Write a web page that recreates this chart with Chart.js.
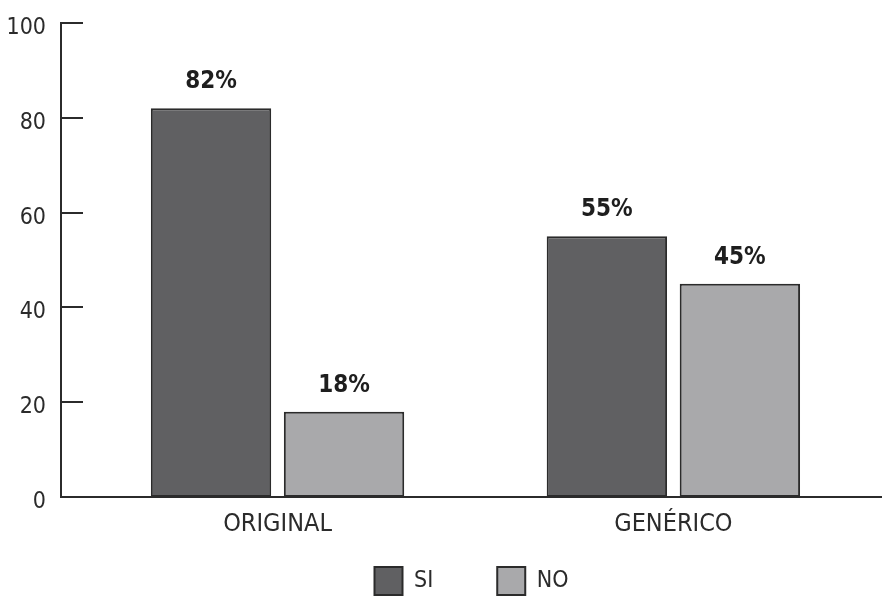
<!DOCTYPE html>
<html>
<head>
<meta charset="utf-8">
<script src="https://cdn.jsdelivr.net/npm/chart.js@4.4.1/dist/chart.umd.min.js"></script>
<style>
html, body { margin: 0; padding: 0; background: #fff; overflow: hidden; }
#wrap { width: 882px; height: 605px; }
</style>
</head>
<body>
<div id="wrap"><canvas id="chart" width="882" height="605"></canvas></div>
<script>
const categories = ['ORIGINAL', 'GENÉRICO'];
const siValues = [82, 55];
const noValues = [18, 45];
const yTicks = [0, 20, 40, 60, 80, 100];

const FONT = "'Liberation Sans Narrow', 'DejaVu Sans Condensed', 'Arial Narrow', sans-serif";
const INK = '#2b2b2b';

Chart.defaults.font.family = FONT;
Chart.defaults.color = INK;

// percentage above each bar
const barLabels = {
    id: 'barLabels',
    afterDatasetsDraw(chart) {
        const ctx = chart.ctx;
        ctx.save();
        ctx.font = 'bold 24px ' + FONT;
        ctx.fillStyle = '#1e1e1e';
        ctx.textAlign = 'center';
        ctx.textBaseline = 'alphabetic';
        chart.data.datasets.forEach((ds, di) => {
            chart.getDatasetMeta(di).data.forEach((bar, i) => {
                ctx.fillText(ds.data[i].y + '%', bar.x, bar.y - 20);
            });
        });
        ctx.restore();
    },
};

// short tick marks pointing into the plot from the y axis
const innerTicks = {
    id: 'innerTicks',
    afterDraw(chart) {
        const y = chart.scales.y;
        const ctx = chart.ctx;
        const left = chart.chartArea.left;
        ctx.save();
        ctx.strokeStyle = INK;
        ctx.lineWidth = 2;
        y.ticks.forEach((t, i) => {
            if (t.value === 0) return;
            const py = Math.round(y.getPixelForTick(i));
            ctx.beginPath();
            ctx.moveTo(left, py);
            ctx.lineTo(left + 22, py);
            ctx.stroke();
        });
        ctx.restore();
    },
};

new Chart(document.getElementById('chart'), {
    type: 'bar',
    data: {
        datasets: [
            {
                label: 'SI',
                data: categories.map((c, i) => ({ x: i, y: siValues[i] })),
                backgroundColor: '#606062',
                borderColor: INK,
                borderWidth: 2,
                borderSkipped: false,
                categoryPercentage: 0.672,
                barPercentage: 0.905,
            },
            {
                label: 'NO',
                data: categories.map((c, i) => ({ x: i, y: noValues[i] })),
                backgroundColor: '#a9a9ab',
                borderColor: INK,
                borderWidth: 2,
                borderSkipped: false,
                categoryPercentage: 0.672,
                barPercentage: 0.905,
            },
        ],
    },
    options: {
        responsive: false,
        animation: false,
        layout: { padding: { top: 23, left: 0, right: 0, bottom: 0 } },
        plugins: {
            tooltip: { enabled: false },
            legend: {
                position: 'bottom',
                fullSize: false,
                labels: {
                    boxWidth: 28,
                    boxHeight: 28,
                    padding: 64,
                    color: INK,
                    font: { size: 23 },
                },
            },
        },
        scales: {
            x: {
                type: 'linear',
                offset: false,
                min: -0.547,
                max: 1.527,
                afterBuildTicks: scale => {
                    scale.ticks = categories.map((c, i) => ({ value: i }));
                },
                // thin axis box so the legend sits right under the axis;
                // mirrored ticks are not clipped to that box
                afterFit: scale => {
                    scale.height = 6;
                },
                grid: { display: false, drawTicks: false, offset: false },
                border: { display: true, color: INK, width: 2 },
                ticks: {
                    mirror: true,
                    padding: -42,
                    autoSkip: false,
                    maxRotation: 0,
                    font: { size: 25 },
                    color: INK,
                    callback: v => categories[v] ?? '',
                },
            },
            y: {
                min: 0,
                max: 100,
                afterBuildTicks: scale => {
                    scale.ticks = yTicks.map(v => ({ value: v }));
                },
                afterFit: scale => {
                    scale.width = 61;
                    scale.paddingTop = 10;
                },
                grid: { display: false, drawTicks: false },
                border: { display: true, color: INK, width: 2 },
                ticks: {
                    padding: 15,
                    labelOffset: 5,
                    font: { size: 23 },
                    color: INK,
                },
            },
        },
    },
    plugins: [barLabels, innerTicks],
});
</script>
</body>
</html>
